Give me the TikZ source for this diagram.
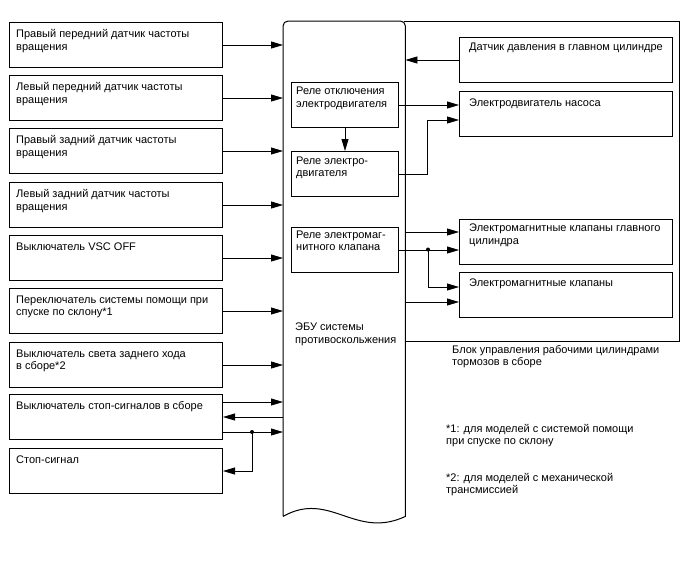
\documentclass[tikz,border=0pt]{standalone}
\usepackage{fontspec}
\setmainfont{Liberation Sans}
\usetikzlibrary{arrows.meta,calc}
\begin{document}
\begin{tikzpicture}[x=1pt,y=-1pt,
  box/.style={draw,line width=1pt,anchor=north west,inner sep=0,minimum height=45pt},
  lbox/.style={box,minimum width=213pt},
  rlbox/.style={box,minimum width=107pt},
  txt/.style={anchor=north west,inner sep=0,align=left,font=\fontsize{11}{12.4}\selectfont},
  arr/.style={-{Triangle[length=12pt,width=7pt]},line width=0.8pt},
  dotc/.style={circle,fill,inner sep=0,minimum size=4pt}]
\useasboundingbox (0,0) rectangle (688,560);
% left boxes
\foreach \n/\t in {1/22,2/75,3/128,4/182,5/235,6/288,7/342,8/394,9/448}{
  \node[lbox] (l\n) at (9,\t) {};
}
\node[txt] (t1) at ($(l1.north west)+(7,7.5)$) {Правый передний датчик частоты\\вращения};
\node[txt] (t2) at ($(l2.north west)+(7,7.5)$) {Левый передний датчик частоты\\вращения};
\node[txt] (t3) at ($(l3.north west)+(7,7.5)$) {Правый задний датчик частоты\\вращения};
\node[txt] (t4) at ($(l4.north west)+(7,7.5)$) {Левый задний датчик частоты\\вращения};
\node[txt] (t5) at ($(l5.north west)+(7,7.5)$) {Выключатель VSC OFF};
\node[txt] (t6) at ($(l6.north west)+(7,7.5)$) {Переключатель системы помощи при\\спуске по склону*1};
\node[txt] (t7) at ($(l7.north west)+(7,7.5)$) {Выключатель света заднего хода\\в сборе*2};
\node[txt] (t8) at ($(l8.north west)+(7,7.5)$) {Выключатель стоп-сигналов в сборе};
\node[txt] (t9) at ($(l9.north west)+(7,7.5)$) {Стоп-сигнал};
% ECU
\node[anchor=north west,inner sep=0,minimum width=122pt,minimum height=495pt] (ecu) at (283,21) {};
\draw[line width=1pt] (ecu.south west) -- ($(ecu.north west)+(0,5)$)
  arc[start angle=180,end angle=90,radius=5pt] -- ($(ecu.north east)+(-5,0)$)
  arc[start angle=90,end angle=0,radius=5pt] -- (ecu.south east)
  .. controls (355,540) and (330,490) .. (ecu.south west);
\node[txt] (ecut) at (295,323) {ЭБУ системы\\противоскольжения};
% outer block
\coordinate (bk1) at (679,21);
\coordinate (bk2) at (679,341);
\draw[line width=1pt] ($(ecu.north east)+(-1,0)$) -- (bk1) -- (bk2) -- (bk2 -| ecu.east);
\node[txt] (bkt) at (452,345) {Блок управления рабочими цилиндрами\\тормозов в сборе};
% relays
\node[rlbox] (rl1) at (291,82) {};
\node[rlbox] (rl2) at (291,151) {};
\node[rlbox] (rl3) at (291,227) {};
\node[txt] (rt1) at ($(rl1.north west)+(5,5)$) {Реле отключения\\электродвигателя};
\node[txt] (rt2) at ($(rl2.north west)+(5,5.5)$) {Реле электро-\\двигателя};
\node[txt] (rt3) at ($(rl3.north west)+(5,3.5)$) {Реле электромаг-\\нитного клапана};
% right boxes
\foreach \n/\t in {1/37,2/91,3/219,4/272}{
  \node[lbox] (r\n) at (459,\t) {};
}
\node[txt] (u1) at ($(r1.north west)+(10,6)$) {Датчик давления в главном цилиндре};
\node[txt] (u2) at ($(r2.north west)+(10,8)$) {Электродвигатель насоса};
\node[txt] (u3) at ($(r3.north west)+(10,5)$) {Электромагнитные клапаны главного\\цилиндра};
\node[txt] (u4) at ($(r4.north west)+(10,7)$) {Электромагнитные клапаны};
% left connectors
\foreach \n in {1,...,7}{
  \draw[arr] (l\n.east) -- (l\n.east -| ecu.west);
}
\draw[arr] ($(l8.east)+(0,-15)$) -- ($(l8.east -| ecu.west)+(0,-15)$);
\draw[arr] (l8.east -| ecu.west) -- (l8.east);
\coordinate (j8) at (252,432);
\draw[arr] ($(l8.east)+(0,15)$) -- ($(l8.east -| ecu.west)+(0,15)$);
\node[dotc] (d8) at (j8) {};
\draw[arr] (d8.center) |- (l9.east);
% right connectors
\draw[arr] (r1.west) -- (r1.west -| ecu.east);
\draw[arr] (rl1.east) -- (rl1.east -| r2.west);
\draw[arr] (rl1.south) -- (rl2.north);
\coordinate (c2) at (427,120);
\draw[arr] (rl2.east) -| (c2) -- (c2 -| r2.west);
\coordinate (v1) at (405,232);
\draw[arr] (v1) -- (v1 -| r3.west);
\draw[arr] (rl3.east) -- (rl3.east -| r3.west);
\node[dotc] (d3) at (428,249.5) {};
\coordinate (c4) at (428,287);
\draw[arr] (d3.center) -- (c4) -- (c4 -| r4.west);
\coordinate (v4) at (405,302);
\draw[arr] (v4) -- (v4 -| r4.west);
% footnotes
\node[txt] (f1) at (446,424) {*1: для моделей с системой помощи\\при спуске по склону};
\node[txt] (f2) at (446,473) {*2: для моделей с механической\\трансмиссией};
\end{tikzpicture}
\end{document}
